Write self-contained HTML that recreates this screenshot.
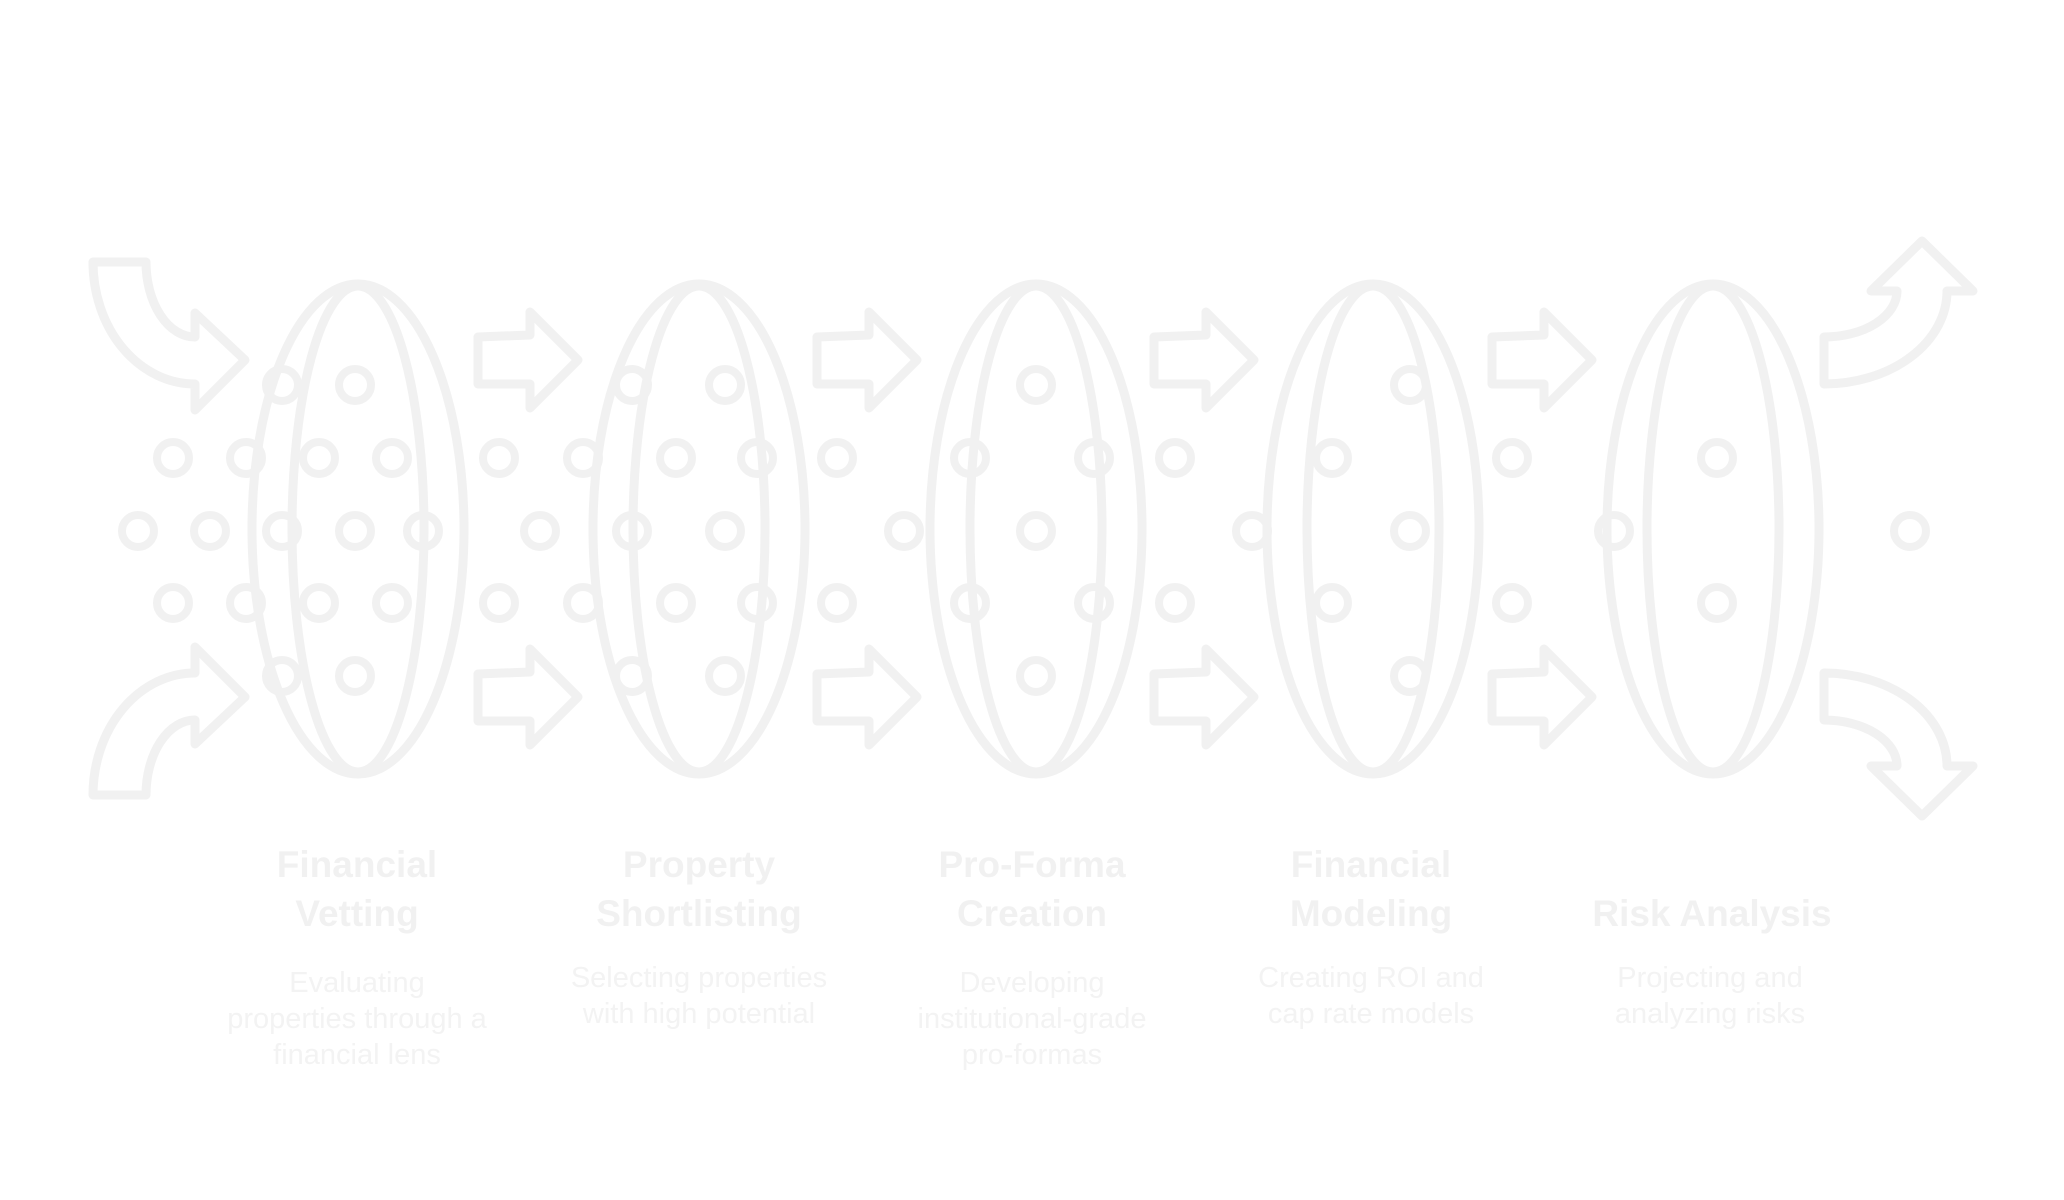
<!DOCTYPE html>
<html><head><meta charset="utf-8"><style>
html,body{margin:0;padding:0;background:#fff;}
body{width:2064px;height:1200px;overflow:hidden;position:relative;font-family:"Liberation Sans",sans-serif;}
.t{position:absolute;width:340px;text-align:center;color:#f1f1f1;}
.h{font-weight:bold;font-size:37px;line-height:49px;}
.d{font-size:29px;line-height:36px;color:#f3f3f3;}
</style></head><body>
<svg width="2064" height="1200" style="position:absolute;left:0;top:0" fill="none" stroke="#f1f1f1" stroke-width="9" stroke-linejoin="round">
<defs>
<g id="lens"><ellipse cx="0" cy="529" rx="106" ry="245"/><ellipse cx="0" cy="529" rx="66" ry="243"/></g>
<path id="arr" d="M0,337 L52,335 L52,312 L100,360 L52,408 L52,384 L0,384 Z"/>
</defs>
<use href="#lens" x="358"/><use href="#lens" x="699"/><use href="#lens" x="1036"/><use href="#lens" x="1373"/><use href="#lens" x="1713"/>
<g>
<use href="#arr" x="478"/><use href="#arr" x="817"/><use href="#arr" x="1154"/><use href="#arr" x="1492"/>
<use href="#arr" x="478" y="337"/><use href="#arr" x="817" y="337"/><use href="#arr" x="1154" y="337"/><use href="#arr" x="1492" y="337"/>
</g>
<path d="M93,262 L146,262 A49,75 0 0 0 195,337 L195,313 L245,360 L195,410 L195,384 A102,122 0 0 1 93,262 Z"/>
<path transform="translate(0,1057) scale(1,-1)" d="M93,262 L146,262 A49,75 0 0 0 195,337 L195,313 L245,360 L195,410 L195,384 A102,122 0 0 1 93,262 Z"/>
<g transform="translate(-8,0)">
<path d="M1832,384 A123,93 0 0 0 1955,291 L1981,291 L1930,241 L1879,291 L1905,291 A73,46 0 0 1 1832,337 Z"/>
<path transform="translate(0,1057) scale(1,-1)" d="M1832,384 A123,93 0 0 0 1955,291 L1981,291 L1930,241 L1879,291 L1905,291 A73,46 0 0 1 1832,337 Z"/>
</g>
<g stroke-width="8">
<circle cx="282" cy="385" r="16"/><circle cx="355" cy="385" r="16"/>
<circle cx="632" cy="385" r="16"/><circle cx="725" cy="385" r="16"/>
<circle cx="1036" cy="385" r="16"/><circle cx="1410" cy="385" r="16"/>
<circle cx="173" cy="458" r="16"/><circle cx="246" cy="458" r="16"/><circle cx="319" cy="458" r="16"/><circle cx="392" cy="458" r="16"/>
<circle cx="499" cy="458" r="16"/><circle cx="583" cy="458" r="16"/>
<circle cx="676" cy="458" r="16"/><circle cx="757" cy="458" r="16"/>
<circle cx="837" cy="458" r="16"/><circle cx="970" cy="458" r="16"/><circle cx="1094" cy="458" r="16"/>
<circle cx="1175" cy="458" r="16"/><circle cx="1332" cy="458" r="16"/><circle cx="1512" cy="458" r="16"/><circle cx="1717" cy="458" r="16"/>
<circle cx="138" cy="531" r="16"/><circle cx="210" cy="531" r="16"/><circle cx="282" cy="531" r="16"/><circle cx="355" cy="531" r="16"/><circle cx="423" cy="531" r="16"/>
<circle cx="540" cy="531" r="16"/><circle cx="632" cy="531" r="16"/><circle cx="725" cy="531" r="16"/>
<circle cx="904" cy="531" r="16"/><circle cx="1036" cy="531" r="16"/>
<circle cx="1252" cy="531" r="16"/><circle cx="1410" cy="531" r="16"/>
<circle cx="1614" cy="531" r="16"/><circle cx="1910" cy="531" r="16"/>
<circle cx="173" cy="603" r="16"/><circle cx="246" cy="603" r="16"/><circle cx="319" cy="603" r="16"/><circle cx="392" cy="603" r="16"/>
<circle cx="499" cy="603" r="16"/><circle cx="583" cy="603" r="16"/>
<circle cx="676" cy="603" r="16"/><circle cx="757" cy="603" r="16"/>
<circle cx="837" cy="603" r="16"/><circle cx="970" cy="603" r="16"/><circle cx="1094" cy="603" r="16"/>
<circle cx="1175" cy="603" r="16"/><circle cx="1332" cy="603" r="16"/><circle cx="1512" cy="603" r="16"/><circle cx="1717" cy="603" r="16"/>
<circle cx="282" cy="676" r="16"/><circle cx="355" cy="676" r="16"/>
<circle cx="632" cy="676" r="16"/><circle cx="725" cy="676" r="16"/>
<circle cx="1036" cy="676" r="16"/><circle cx="1410" cy="676" r="16"/>
</g>
</svg>
<div class="t h" style="left:187px;top:840px">Financial<br>Vetting</div>
<div class="t h" style="left:529px;top:840px">Property<br>Shortlisting</div>
<div class="t h" style="left:862px;top:840px">Pro-Forma<br>Creation</div>
<div class="t h" style="left:1201px;top:840px">Financial<br>Modeling</div>
<div class="t h" style="left:1542px;top:889px">Risk Analysis</div>
<div class="t d" style="left:187px;top:965px">Evaluating<br>properties through a<br>financial lens</div>
<div class="t d" style="left:529px;top:960px">Selecting properties<br>with high potential</div>
<div class="t d" style="left:862px;top:965px">Developing<br>institutional-grade<br>pro-formas</div>
<div class="t d" style="left:1201px;top:960px">Creating ROI and<br>cap rate models</div>
<div class="t d" style="left:1540px;top:960px">Projecting and<br>analyzing risks</div>
</body></html>
